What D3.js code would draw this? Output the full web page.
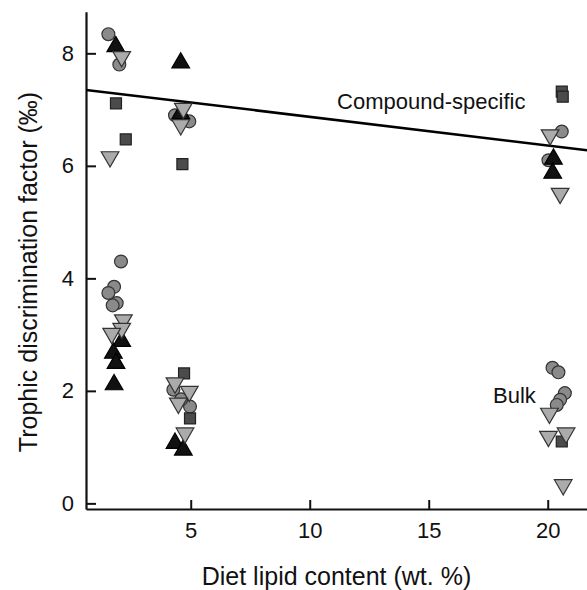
<!DOCTYPE html>
<html>
<head>
<meta charset="utf-8">
<script src="https://cdn.jsdelivr.net/npm/d3@7"></script>
<style>
  body { margin: 0; background: #fff; }
  svg text { font-family: "Liberation Sans", Arial, sans-serif; fill: #111; }
</style>
</head>
<body>
<div id="chart"></div>
<script>
// Data: [diet lipid wt.%, trophic discrimination factor]
var circles = [
  [1.54, 8.34], [2.00, 7.80],
  [2.07, 4.30], [1.78, 3.85], [1.54, 3.74], [1.89, 3.56], [1.72, 3.52],
  [4.34, 6.90], [4.94, 6.79],
  [4.27, 2.02], [4.97, 1.72], [4.60, 1.85],
  [20.59, 6.61], [20.03, 6.10],
  [20.20, 2.41], [20.45, 2.33], [20.72, 1.96], [20.52, 1.84], [20.38, 1.75]
];
var squares = [
  [1.86, 7.11], [2.27, 6.47],
  [4.65, 6.03],
  [4.72, 2.31], [4.97, 1.51],
  [20.59, 7.32], [20.63, 7.23],
  [20.59, 1.10]
];
var upTriangles = [
  [1.85, 8.12],
  [2.10, 2.88], [1.75, 2.67], [1.86, 2.49], [1.78, 2.11],
  [4.58, 7.83], [4.58, 6.93],
  [4.34, 1.07], [4.69, 0.95],
  [20.24, 6.12], [20.21, 5.87]
];
var downTriangles = [
  [2.10, 7.94], [1.61, 6.16],
  [2.17, 3.26], [2.10, 3.11], [1.68, 3.02],
  [4.69, 7.02], [4.58, 6.73],
  [4.34, 2.14], [4.94, 1.99], [4.48, 1.78], [4.76, 1.25],
  [20.10, 6.55], [20.52, 5.51],
  [20.07, 1.60], [20.03, 1.19], [20.77, 1.25], [20.65, 0.33]
];
// regression line end points (compound-specific)
var lineX = [0.6, 22];
var lineY = [7.35, 6.26];

var xTicks = [5, 10, 15, 20];
var yTicks = [0, 2, 4, 6, 8];

var labels = [
  { text: "Compound-specific", x: 11.15, y: 7.01 },
  { text: "Bulk", x: 17.7, y: 1.79 }
];

var width = 587, height = 590;

var svg = d3.select("#chart").append("svg")
    .attr("width", width).attr("height", height);

var x = d3.scaleLinear().domain([0.6, 21.65]).range([86, 587]);
var y = d3.scaleLinear().domain([-0.1, 8.74]).range([509, 11.7]);

// plot area clip so the line stops at the picture edge
svg.append("clipPath").attr("id", "plotclip")
  .append("rect").attr("x", 86).attr("y", 0).attr("width", width - 86).attr("height", 509);

// axes
var xAxis = svg.append("g")
    .attr("transform", "translate(0," + y.range()[0] + ")")
    .call(d3.axisBottom(x).tickValues(xTicks).tickSizeInner(-9).tickSizeOuter(0).tickPadding(20));
var yAxis = svg.append("g")
    .attr("transform", "translate(" + x.range()[0] + ",0)")
    .call(d3.axisLeft(y).tickValues(yTicks).tickSizeInner(-10).tickSizeOuter(0).tickPadding(12));

[xAxis, yAxis].forEach(function(a) {
  a.select(".domain").attr("stroke", "#111").attr("stroke-width", 2.2);
  a.selectAll(".tick line").attr("stroke", "#111").attr("stroke-width", 2);
  a.selectAll(".tick text").attr("font-size", 22).attr("fill", "#111")
    .style("font-family", "'Liberation Sans', Arial, sans-serif");
});
xAxis.selectAll(".tick text").attr("dy", "0.71em").attr("y", 13);

// axis titles
svg.append("text")
  .attr("x", (x.range()[0] + x.range()[1]) / 2).attr("y", 585)
  .attr("text-anchor", "middle").attr("font-size", 25)
  .text("Diet lipid content (wt. %)");

svg.append("text")
  .attr("transform", "translate(37,272) rotate(-90)")
  .attr("text-anchor", "middle").attr("font-size", 25)
  .text("Trophic discrimination factor (\u2030)");

var plot = svg.append("g").attr("clip-path", "url(#plotclip)");

// regression line
plot.append("line")
  .attr("x1", x(lineX[0])).attr("y1", y(lineY[0]))
  .attr("x2", x(lineX[1])).attr("y2", y(lineY[1]))
  .attr("stroke", "#000").attr("stroke-width", 2.5);

// markers
function drawSeries(data, type, size, fill, stroke, rot) {
  plot.append("g").selectAll("path").data(data).enter().append("path")
    .attr("d", d3.symbol().type(type).size(size))
    .attr("transform", function(d) {
      return "translate(" + x(d[0]) + "," + y(d[1]) + ")" + (rot ? " rotate(" + rot + ")" : "");
    })
    .attr("fill", fill).attr("stroke", stroke).attr("stroke-width", 1.2);
}

drawSeries(circles, d3.symbolCircle, 130, "#8a8a8a", "#333", 0);
drawSeries(squares, d3.symbolSquare, 121, "#4b4b4b", "#222", 0);
drawSeries(upTriangles, d3.symbolTriangle, 135, "#111", "#000", 0);
drawSeries(downTriangles, d3.symbolTriangle, 135, "#ababab", "#333", 180);

// series labels
svg.selectAll("text.lab").data(labels).enter().append("text")
  .attr("class", "lab")
  .attr("x", function(d) { return x(d.x); })
  .attr("y", function(d) { return y(d.y); })
  .attr("font-size", 22)
  .text(function(d) { return d.text; });
</script>
</body>
</html>
